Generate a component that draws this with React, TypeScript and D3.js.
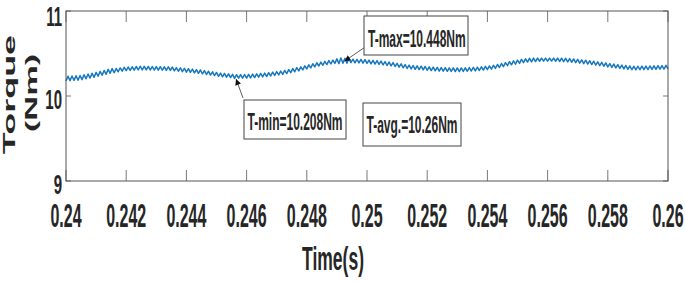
import React from "react";
import * as d3 from "d3";

// ---- data ----
const TIME_START = 0.24;
const TIME_STEP = 0.02 / 300;
const torque: number[] = [
  10.178,10.232,10.181,10.235,10.184,10.238,10.187,10.241,10.193,10.250,
  10.202,10.258,10.211,10.267,10.220,10.278,10.232,10.290,10.244,10.301,
  10.255,10.313,10.267,10.322,10.274,10.324,10.285,10.331,10.292,10.338,
  10.298,10.341,10.301,10.344,10.304,10.347,10.307,10.350,10.307,10.349,
  10.307,10.348,10.306,10.347,10.305,10.346,10.304,10.345,10.303,10.344,
  10.302,10.343,10.301,10.340,10.296,10.335,10.291,10.331,10.286,10.326,
  10.281,10.321,10.277,10.316,10.272,10.311,10.267,10.306,10.261,10.299,
  10.253,10.292,10.246,10.284,10.239,10.277,10.232,10.270,10.226,10.265,
  10.221,10.260,10.216,10.255,10.208,10.251,10.210,10.252,10.210,10.253,
  10.211,10.254,10.213,10.257,10.217,10.261,10.221,10.265,10.225,10.269,
  10.229,10.274,10.236,10.281,10.242,10.287,10.248,10.293,10.254,10.301,
  10.264,10.311,10.275,10.322,10.285,10.333,10.296,10.343,10.307,10.355,
  10.319,10.367,10.331,10.379,10.343,10.391,10.353,10.399,10.362,10.408,
  10.370,10.417,10.378,10.423,10.384,10.437,10.381,10.448,10.386,10.443,
  10.385,10.442,10.392,10.433,10.391,10.432,10.389,10.430,10.386,10.427,
  10.383,10.423,10.379,10.420,10.376,10.416,10.371,10.410,10.365,10.404,
  10.359,10.399,10.354,10.393,10.347,10.385,10.339,10.378,10.332,10.370,
  10.324,10.363,10.318,10.358,10.314,10.354,10.311,10.351,10.307,10.347,
  10.303,10.343,10.299,10.340,10.296,10.336,10.293,10.335,10.292,10.333,
  10.291,10.332,10.289,10.331,10.288,10.330,10.287,10.330,10.289,10.332,
  10.291,10.335,10.294,10.337,10.296,10.339,10.300,10.344,10.305,10.349,
  10.310,10.354,10.315,10.360,10.324,10.371,10.335,10.382,10.346,10.393,
  10.357,10.404,10.367,10.413,10.375,10.421,10.384,10.430,10.392,10.438,
  10.399,10.443,10.402,10.446,10.405,10.446,10.409,10.446,10.410,10.446,
  10.410,10.446,10.411,10.446,10.409,10.446,10.406,10.445,10.403,10.444,
  10.401,10.441,10.397,10.436,10.392,10.431,10.386,10.426,10.381,10.421,
  10.376,10.415,10.370,10.409,10.364,10.402,10.357,10.396,10.350,10.389,
  10.343,10.382,10.336,10.375,10.330,10.370,10.325,10.364,10.319,10.359,
  10.314,10.353,10.309,10.349,10.308,10.350,10.309,10.351,10.310,10.352,
  10.311,10.353,10.312,10.355,10.314,10.357,10.316,10.358,10.317,10.360,
  10.319,
];
const xTicks = [0.24, 0.242, 0.244, 0.246, 0.248, 0.25, 0.252, 0.254, 0.256, 0.258, 0.26];
const xTickLabels = ["0.24", "0.242", "0.244", "0.246", "0.248", "0.25", "0.252", "0.254", "0.256", "0.258", "0.26"];
const yTicks = [9, 10, 11];
const yTickLabels = ["9", "10", "11"];
const xLabel = "Time(s)";
const yLabelLines = ["Torque", "(Nm)"];
const annotationTexts = ["T-max=10.448Nm", "T-min=10.208Nm", "T-avg.=10.26Nm"];
const annotationTargets: ([number, number] | null)[] = [[0.24925, 10.41], [0.24565, 10.2], null];

// ---- layout ----
const W = 685, H = 283;
const L = 66, R = 668, T = 11, B = 181;
const FONT = "'Liberation Sans', Arial, Helvetica, sans-serif";
const TXT = "#262626";
const LINE = "#1578BE";
const AX = "#555555";

const boxes = [
  { x: 364, y: 16, w: 104, h: 39, bx: 368, by: 46.5, tail: [364.5, 47.5] },
  { x: 244, y: 100, w: 102, h: 39, bx: 247.5, by: 129.5, tail: [243, 98] },
  { x: 363, y: 103, w: 98, h: 43, bx: 366.5, by: 133, tail: null as null | number[] },
];

function SText(props: {
  x: number; y: number; sx?: number; sy?: number; rot?: number;
  anchor?: string; size: number; weight?: string; children: React.ReactNode;
}) {
  const { x, y, sx = 1, sy = 1, rot = 0, anchor = "start", size, weight = "bold", children } = props;
  return (
    <text
      transform={`translate(${x},${y}) rotate(${rot}) scale(${sx},${sy})`}
      textAnchor={anchor}
      fontFamily={FONT}
      fontSize={size}
      fontWeight={weight}
      fill={TXT}
    >
      {children}
    </text>
  );
}

export default function App() {
  const x = d3.scaleLinear().domain([0.24, 0.26]).range([L, R]);
  const y = d3.scaleLinear().domain([9, 11]).range([B, T]);
  const pts: [number, number][] = torque.map((v, i) => [TIME_START + i * TIME_STEP, v]);
  const line = d3.line<[number, number]>().x((d) => x(d[0])).y((d) => y(d[1]));

  return (
    <svg
      width={W}
      height={H}
      viewBox={`0 0 ${W} ${H}`}
      style={{ position: "absolute", left: 0, top: 0, display: "block", background: "#fff" }}
    >
      <defs>
        <marker id="ah" viewBox="0 0 10 10" refX="10" refY="5" markerWidth="7" markerHeight="6" orient="auto" markerUnits="userSpaceOnUse">
          <path d="M0,0 L10,5 L0,10 z" fill="#111" />
        </marker>
      </defs>
      <rect x={0} y={0} width={W} height={H} fill="#fff" />

      {xTicks.map((t, i) => (
        <g key={"xt" + i} stroke={AX} strokeWidth={0.8}>
          <line x1={x(t)} x2={x(t)} y1={B} y2={B - 11} />
          <line x1={x(t)} x2={x(t)} y1={T} y2={T + 11} />
        </g>
      ))}
      {yTicks.map((v, i) => (
        <g key={"yt" + i} stroke={AX} strokeWidth={0.8}>
          <line x1={L} x2={L + 5} y1={y(v)} y2={y(v)} />
          <line x1={R} x2={R - 5} y1={y(v)} y2={y(v)} />
        </g>
      ))}

      <path d={line(pts) || ""} fill="none" stroke={LINE} strokeWidth={1.5} strokeLinejoin="round" />

      <rect x={L} y={T} width={R - L} height={B - T} fill="none" stroke={AX} strokeWidth={1} />

      {xTicks.map((t, i) => (
        <SText key={"xl" + i} x={x(t)} y={226.5} sy={2.1} anchor="middle" size={16}>
          {xTickLabels[i]}
        </SText>
      ))}
      {yTicks.map((v, i) => (
        <SText key={"yl" + i} x={62} y={Math.max(y(v) + 13, 25.5)} sy={1.85} anchor="end" size={15}>
          {yTickLabels[i]}
        </SText>
      ))}

      <SText x={333} y={270} sy={1.85} anchor="middle" size={17.5}>
        {xLabel}
      </SText>
      <SText x={15} y={94.5} rot={-90} sx={2.25} anchor="middle" size={16}>
        {yLabelLines[0]}
      </SText>
      <SText x={37} y={93} rot={-90} sx={2.15} anchor="middle" size={16}>
        {yLabelLines[1]}
      </SText>

      {annotationTexts.map((txt, i) => {
        const b = boxes[i];
        const tgt = annotationTargets[i];
        return (
          <g key={"an" + i}>
            {tgt && b.tail && (
              <line
                x1={b.tail[0]}
                y1={b.tail[1]}
                x2={x(tgt[0])}
                y2={y(tgt[1])}
                stroke="#333"
                strokeWidth={0.8}
                markerEnd="url(#ah)"
              />
            )}
            <rect x={b.x} y={b.y} width={b.w} height={b.h} fill="#fff" stroke="#444" strokeWidth={1} />
            <SText x={b.bx} y={b.by} sy={2.0} size={12}>
              {txt}
            </SText>
          </g>
        );
      })}
    </svg>
  );
}
